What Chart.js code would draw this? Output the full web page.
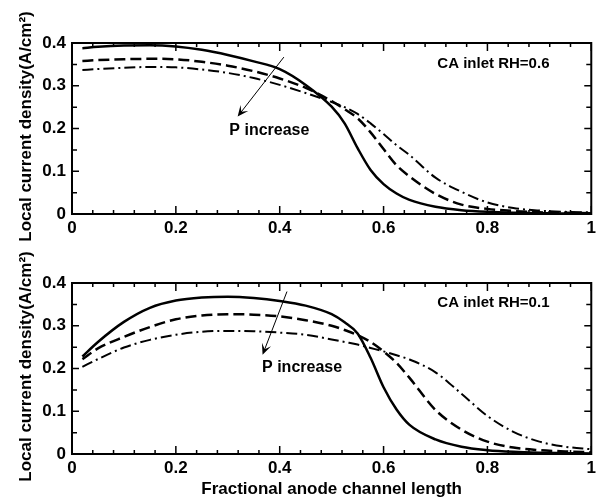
<!DOCTYPE html>
<html lang="en">
<head>
<meta charset="UTF-8">
<title>Local current density along anode channel</title>
<script src="https://cdn.jsdelivr.net/npm/chart.js@4.4.0/dist/chart.umd.min.js"></script>
<style>
  body { margin: 0; background: #fff; }
  .panel { position: absolute; left: 0; }
</style>
</head>
<body>
<div class="panel" style="top:0"><canvas id="topChart" width="600" height="250"></canvas></div>
<div class="panel" style="top:240px"><canvas id="bottomChart" width="600" height="260"></canvas></div>
<script>
// fractional anode channel position
const xPos = [0.02, 0.05, 0.1, 0.15, 0.2, 0.25, 0.3, 0.35, 0.4, 0.45, 0.5, 0.525, 0.55, 0.575, 0.6, 0.625, 0.65, 0.7, 0.75, 0.8, 0.85, 0.9, 0.95, 1.0];

// CA inlet RH = 0.6 (solid -> dashed -> dash-dot as P increases)
const rh06Low  = [0.388, 0.391, 0.394, 0.395, 0.392, 0.384, 0.372, 0.357, 0.339, 0.302, 0.251, 0.212, 0.154, 0.103, 0.070, 0.048, 0.033, 0.017, 0.009, 0.005, 0.003, 0.002, 0.001, 0.001];
const rh06Mid  = [0.358, 0.360, 0.362, 0.363, 0.362, 0.356, 0.347, 0.334, 0.317, 0.295, 0.264, 0.245, 0.224, 0.191, 0.152, 0.114, 0.088, 0.047, 0.022, 0.012, 0.007, 0.004, 0.003, 0.002];
const rh06High = [0.337, 0.339, 0.342, 0.344, 0.343, 0.338, 0.330, 0.318, 0.302, 0.283, 0.262, 0.250, 0.234, 0.212, 0.187, 0.161, 0.138, 0.085, 0.052, 0.027, 0.014, 0.008, 0.005, 0.004];

// CA inlet RH = 0.1
const rh01Low  = [0.228, 0.262, 0.309, 0.342, 0.359, 0.366, 0.368, 0.365, 0.358, 0.347, 0.327, 0.308, 0.282, 0.225, 0.156, 0.104, 0.068, 0.034, 0.017, 0.009, 0.005, 0.003, 0.002, 0.001];
const rh01Mid  = [0.222, 0.247, 0.274, 0.297, 0.315, 0.324, 0.327, 0.326, 0.322, 0.313, 0.300, 0.290, 0.278, 0.262, 0.240, 0.213, 0.178, 0.103, 0.057, 0.029, 0.015, 0.009, 0.006, 0.004];
const rh01High = [0.204, 0.222, 0.249, 0.267, 0.279, 0.286, 0.288, 0.287, 0.284, 0.279, 0.268, 0.262, 0.256, 0.248, 0.240, 0.231, 0.221, 0.191, 0.141, 0.089, 0.052, 0.029, 0.017, 0.011];

const xTicks = [0, 0.2, 0.4, 0.6, 0.8, 1];
const yTicks = [0, 0.1, 0.2, 0.3, 0.4];

const yTitle = 'Local current density(A/cm\u00B2)';
const xTitle = 'Fractional anode channel length';
const fam = "'Liberation Sans', Arial, Helvetica, sans-serif";

function pts(ys) {
  return xPos.map((x, i) => ({x: x, y: ys[i]}));
}

function series(low, mid, high) {
  return [
    {data: pts(low), borderColor: '#000', borderWidth: 2.5, pointRadius: 0, cubicInterpolationMode: 'monotone'},
    {data: pts(mid), borderColor: '#000', borderWidth: 2.5, borderDash: [11, 5], pointRadius: 0, cubicInterpolationMode: 'monotone'},
    {data: pts(high), borderColor: '#000', borderWidth: 2, borderDash: [11, 4, 2, 4], pointRadius: 0, cubicInterpolationMode: 'monotone'}
  ];
}

function fmt(v) { return String(Number(v.toFixed(1))); }

// frame, inward ticks, y title, arrow and labels
const decor = {
  id: 'decor',
  afterDraw(chart, args, o) {
    const {ctx, chartArea: a, scales: {x, y}} = chart;
    ctx.save();
    ctx.strokeStyle = '#000';
    ctx.fillStyle = '#000';
    ctx.lineWidth = 1.5;
    ctx.beginPath();
    for (let i = 0; i <= 25; i++) {
      const px = x.getPixelForValue(i * 0.04);
      const len = i % 5 === 0 ? 8 : 4;
      ctx.moveTo(px, a.bottom); ctx.lineTo(px, a.bottom - len);
      ctx.moveTo(px, a.top); ctx.lineTo(px, a.top + len);
    }
    for (let j = 0; j <= 8; j++) {
      const py = y.getPixelForValue(j * 0.05);
      const len = j % 2 === 0 ? 7 : 5;
      ctx.moveTo(a.left, py); ctx.lineTo(a.left + len, py);
      ctx.moveTo(a.right, py); ctx.lineTo(a.right - len, py);
    }
    ctx.stroke();
    ctx.lineWidth = 2;
    ctx.strokeRect(a.left, a.top, a.right - a.left, a.bottom - a.top);

    // y axis title
    ctx.save();
    ctx.translate(26, (a.top + a.bottom) / 2 - 2);
    ctx.rotate(-Math.PI / 2);
    ctx.font = 'bold 17px ' + fam;
    ctx.textAlign = 'center';
    ctx.textBaseline = 'middle';
    ctx.fillText(yTitle, 0, 0);
    ctx.restore();

    // arrow
    const x0 = x.getPixelForValue(o.arrow[0]), y0 = y.getPixelForValue(o.arrow[1]);
    const x1 = x.getPixelForValue(o.arrow[2]), y1 = y.getPixelForValue(o.arrow[3]);
    const ang = Math.atan2(y1 - y0, x1 - x0);
    ctx.lineWidth = 1;
    ctx.beginPath();
    ctx.moveTo(x0, y0);
    ctx.lineTo(x1 - 5 * Math.cos(ang), y1 - 5 * Math.sin(ang));
    ctx.stroke();
    ctx.beginPath();
    ctx.moveTo(x1, y1);
    ctx.lineTo(x1 - 12 * Math.cos(ang - 0.42), y1 - 12 * Math.sin(ang - 0.42));
    ctx.lineTo(x1 - 6 * Math.cos(ang), y1 - 6 * Math.sin(ang));
    ctx.lineTo(x1 - 12 * Math.cos(ang + 0.42), y1 - 12 * Math.sin(ang + 0.42));
    ctx.closePath();
    ctx.fill();

    ctx.font = 'bold 16px ' + fam;
    ctx.textBaseline = 'middle';
    ctx.textAlign = 'left';
    ctx.fillText('P increase', x.getPixelForValue(o.pLabel[0]), y.getPixelForValue(o.pLabel[1]));
    ctx.font = 'bold 15px ' + fam;
    ctx.textAlign = 'right';
    ctx.fillText(o.caseText, x.getPixelForValue(o.caseLabel[0]), y.getPixelForValue(o.caseLabel[1]));
    ctx.restore();
  }
};

function makeChart(id, datasets, showXTitle, xHeight, deco) {
  return new Chart(document.getElementById(id), {
    type: 'line',
    data: {datasets: datasets},
    plugins: [decor],
    options: {
      responsive: false,
      animation: false,
      layout: {padding: {top: 43, left: 0, right: 6, bottom: 0}},
      plugins: {legend: {display: false}, tooltip: {enabled: false}, decor: deco},
      scales: {
        x: {
          type: 'linear', min: 0, max: 1,
          afterFit: s => { s.height = xHeight; },
          afterBuildTicks: s => { s.ticks = xTicks.map(v => ({value: v})); },
          grid: {display: false, drawTicks: false},
          border: {display: false},
          ticks: {color: '#000', padding: 4, maxRotation: 0, font: {family: fam, size: 17, weight: 'bold'}, callback: fmt},
          title: {display: showXTitle, text: xTitle, color: '#000', padding: {top: 0, bottom: 0}, font: {family: fam, size: 17, weight: 'bold'}}
        },
        y: {
          min: 0, max: 0.4,
          afterFit: s => { s.width = 72; },
          afterBuildTicks: s => { s.ticks = yTicks.map(v => ({value: v})); },
          grid: {display: false, drawTicks: false},
          border: {display: false},
          ticks: {color: '#000', padding: 6, font: {family: fam, size: 17, weight: 'bold'}, callback: fmt}
        }
      }
    }
  });
}

makeChart('topChart', series(rh06Low, rh06Mid, rh06High), false, 36,
  {arrow: [0.408, 0.367, 0.319, 0.228], pLabel: [0.303, 0.194], caseLabel: [0.9195, 0.351], caseText: 'CA inlet RH=0.6'});
makeChart('bottomChart', series(rh01Low, rh01Mid, rh01High), true, 46,
  {arrow: [0.414, 0.38, 0.367, 0.232], pLabel: [0.366, 0.202], caseLabel: [0.9195, 0.353], caseText: 'CA inlet RH=0.1'});
</script>
</body>
</html>
